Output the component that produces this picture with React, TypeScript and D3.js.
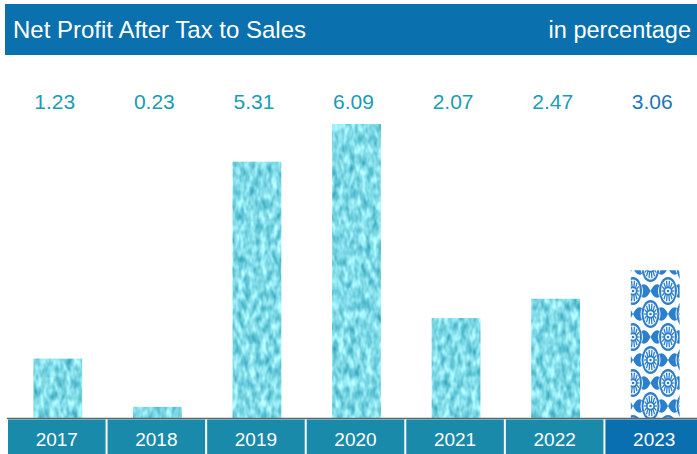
import { useEffect, useRef } from "react";
import * as d3 from "d3";

const years = ["2017", "2018", "2019", "2020", "2021", "2022", "2023"];
const values = [1.23, 0.23, 5.31, 6.09, 2.07, 2.47, 3.06];
const title = "Net Profit After Tax to Sales";
const unitLabel = "in percentage";

const W = 697;
const H = 454;

const App = () => {
  const svgRef = useRef<SVGSVGElement | null>(null);

  useEffect(() => {
    if (!svgRef.current) return;
    const svg = d3.select(svgRef.current);
    svg.selectAll("*").remove();

    const baseY = 418;
    const font = "'Liberation Sans', Arial, Helvetica, sans-serif";

    const x = d3.scaleBand().domain(years).range([7, 704]).padding(0);
    const y = d3.scaleLinear().domain([0, 6.09]).range([baseY, 124]);

    const defs = svg.append("defs");

    // noisy turquoise texture for the regular bars
    const tex = defs
      .append("filter")
      .attr("id", "tex")
      .attr("x", 0)
      .attr("y", 0)
      .attr("width", 1)
      .attr("height", 1)
      .attr("color-interpolation-filters", "sRGB");
    tex
      .append("feTurbulence")
      .attr("type", "fractalNoise")
      .attr("baseFrequency", "0.18 0.09")
      .attr("numOctaves", 2)
      .attr("seed", 7)
      .attr("result", "n");
    tex
      .append("feColorMatrix")
      .attr("in", "n")
      .attr("type", "matrix")
      .attr(
        "values",
        "0.8 0 0 0 0.1  0.55 0 0 0 0.58  0.45 0 0 0 0.68  0 0 0 0 1"
      )
      .attr("result", "c");
    tex
      .append("feComposite")
      .attr("in", "c")
      .attr("in2", "SourceGraphic")
      .attr("operator", "in");

    // blue ornament pattern for the latest year
    const blue = "#2c7fcc";
    const tw = 35;
    const th = 46;
    const pat = defs
      .append("pattern")
      .attr("id", "orn")
      .attr("patternUnits", "userSpaceOnUse")
      .attr("width", tw)
      .attr("height", th)
      .attr("x", 633)
      .attr("y", 245);
    pat.append("rect").attr("width", tw).attr("height", th).attr("fill", "#fff");
    const medallion = (g: any, cx: number, cy: number) => {
      g.append("ellipse").attr("cx", cx).attr("cy", cy).attr("rx", 9).attr("ry", 14).attr("fill", blue);
      g.append("ellipse").attr("cx", cx).attr("cy", cy).attr("rx", 7).attr("ry", 11.5).attr("fill", "#fff");
      d3.range(14).forEach((i) => {
        const a = (i / 14) * Math.PI * 2;
        g.append("line")
          .attr("x1", cx + Math.cos(a) * 4)
          .attr("y1", cy + Math.sin(a) * 4)
          .attr("x2", cx + Math.cos(a) * 6.5)
          .attr("y2", cy + Math.sin(a) * 10.5)
          .attr("stroke", blue)
          .attr("stroke-width", 1.3);
      });
      g.append("circle").attr("cx", cx).attr("cy", cy).attr("r", 4.5).attr("fill", blue);
      g.append("circle").attr("cx", cx).attr("cy", cy).attr("r", 2.8).attr("fill", "#fff");
      g.append("circle").attr("cx", cx).attr("cy", cy).attr("r", 1.3).attr("fill", blue);
    };
    const bow = (g: any, cx: number, cy: number) => {
      g.append("path")
        .attr(
          "d",
          `M${cx},${cy} Q${cx - 4},${cy - 9} ${cx - 9},${cy - 6} Q${cx - 6},${cy} ${cx - 9},${cy + 6} Q${cx - 4},${cy + 9} ${cx},${cy}` +
            ` Q${cx + 4},${cy - 9} ${cx + 9},${cy - 6} Q${cx + 6},${cy} ${cx + 9},${cy + 6} Q${cx + 4},${cy + 9} ${cx},${cy}Z`
        )
        .attr("fill", blue);
    };
    [0, tw].forEach((cx) => [0, th].forEach((cy) => medallion(pat, cx, cy)));
    medallion(pat, tw / 2, th / 2);
    [0, th].forEach((cy) => bow(pat, tw / 2, cy));
    [0, tw].forEach((cx) => bow(pat, cx, th / 2));

    // header band
    svg.append("rect").attr("x", 5).attr("y", 4).attr("width", W - 5).attr("height", 51).attr("fill", "#0a70ae");
    svg.append("text")
      .attr("x", 13)
      .attr("y", 38)
      .attr("fill", "#fff")
      .attr("font-family", font)
      .attr("font-size", 24)
      .text(title);
    svg.append("text")
      .attr("x", 691)
      .attr("y", 38)
      .attr("text-anchor", "end")
      .attr("fill", "#fff")
      .attr("font-family", font)
      .attr("font-size", 23.5)
      .text(unitLabel);

    const barW = x.bandwidth() * 0.49;

    // value labels
    svg.selectAll(".val")
      .data(values)
      .enter()
      .append("text")
      .attr("class", "val")
      .attr("x", (_, i) => (x(years[i]) || 0) + x.bandwidth() / 2 - 2)
      .attr("y", 109)
      .attr("text-anchor", "middle")
      .attr("fill", (_, i) => (i === years.length - 1 ? "#1b76b8" : "#1a9bb6"))
      .attr("font-family", font)
      .attr("font-size", 21)
      .text((d) => d.toFixed(2));

    // bars
    svg.selectAll(".bar")
      .data(values)
      .enter()
      .append("rect")
      .attr("class", "bar")
      .attr("x", (_, i) => (x(years[i]) || 0) + x.bandwidth() / 2 - barW / 2 + 1)
      .attr("y", (d) => y(d))
      .attr("width", barW)
      .attr("height", (d) => baseY - y(d))
      .attr("fill", (_, i) => (i === years.length - 1 ? "url(#orn)" : "#8fdde8"))
      .attr("filter", (_, i) => (i === years.length - 1 ? null : "url(#tex)"));

    // baseline
    svg.append("line")
      .attr("x1", 7)
      .attr("x2", W)
      .attr("y1", baseY + 0.5)
      .attr("y2", baseY + 0.5)
      .attr("stroke", "#5f6668")
      .attr("stroke-width", 1.5);

    // category boxes
    const boxes = svg.selectAll(".box").data(years).enter().append("g").attr("class", "box");
    boxes
      .append("rect")
      .attr("x", (d) => (x(d) || 0) + 1)
      .attr("y", baseY + 1.5)
      .attr("width", x.bandwidth() - 2)
      .attr("height", H - baseY)
      .attr("fill", (_, i) => (i === years.length - 1 ? "#0a6fae" : "#1a8aab"));
    boxes
      .append("text")
      .attr("x", (d) => (x(d) || 0) + x.bandwidth() / 2)
      .attr("y", 446)
      .attr("text-anchor", "middle")
      .attr("fill", "#fff")
      .attr("font-family", font)
      .attr("font-size", 19)
      .text((d) => d);
  }, []);

  return (
    <svg
      ref={svgRef}
      width={W}
      height={H}
      style={{ position: "absolute", left: 0, top: 0, background: "#fff" }}
    ></svg>
  );
};

export default App;
